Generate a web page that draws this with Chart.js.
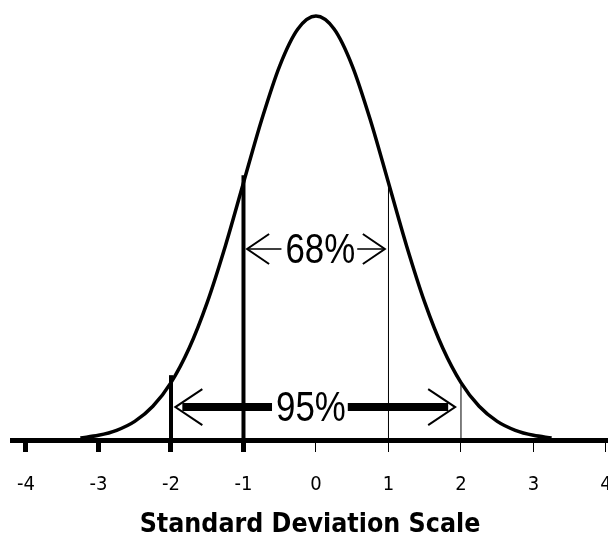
<!DOCTYPE html>
<html>
<head>
<meta charset="utf-8">
<script src="https://cdn.jsdelivr.net/npm/chart.js@4/dist/chart.umd.min.js"></script>
<style>
  html, body { margin: 0; padding: 0; background: #fff; overflow: hidden; }
  #wrap { width: 608px; height: 541px; }
</style>
</head>
<body>
<div id="wrap"><canvas id="sd"></canvas></div>
<script>
// curve (standard deviation units vs. height)
const curveX = [-3.25, -3, -2.75, -2.5, -2.25, -2, -1.75, -1.5, -1.25, -1, -0.75, -0.5, -0.25, 0,
                0.25, 0.5, 0.75, 1, 1.25, 1.5, 1.75, 2, 2.25, 2.5, 2.75, 3, 3.25];
const curveY = [0.002, 0.0044, 0.0091, 0.0175, 0.0317, 0.054, 0.0863, 0.1295, 0.1826, 0.242, 0.3011, 0.3521, 0.3867, 0.3989,
                0.3867, 0.3521, 0.3011, 0.242, 0.1826, 0.1295, 0.0863, 0.054, 0.0317, 0.0175, 0.0091, 0.0044, 0.002];

// vertical markers: position and how high they reach
const markerX = [-2, -1, 1, 2];
const markerTop = [0.061, 0.249, 0.24, 0.052];
const markerBold = [true, true, false, false];

const tickValues = [-4, -3, -2, -1, 0, 1, 2, 3, 4];
const percentLabels = ['68%', '95%'];
const percentFrom = [-0.95, -1.94];
const percentTo = [0.95, 1.92];
const percentLevel = [0.1797, 0.031];
const percentCenter = [0.06, -0.07];

const condensed = "'DejaVu Sans Condensed', 'DejaVu Sans', sans-serif";

const datasets = [{
  data: curveX.map((x, i) => ({ x: x, y: curveY[i] })),
  borderColor: '#000',
  borderWidth: 3.5,
  pointRadius: 0,
  cubicInterpolationMode: 'monotone',
  fill: false
}];
markerX.forEach((x, i) => {
  datasets.push({
    data: [{ x: x, y: 0 }, { x: x, y: markerTop[i] }],
    borderColor: '#000',
    borderWidth: markerBold[i] ? 4 : 1,
    pointRadius: 0
  });
});

// arrows with the percentages
const arrowPlugin = {
  id: 'arrows',
  afterDatasetsDraw(chart) {
    const { ctx, scales: { x, y } } = chart;
    const squeeze = 0.83;
    ctx.save();
    ctx.font = "42px 'Liberation Sans', Arial, sans-serif";
    ctx.textAlign = 'center';
    ctx.textBaseline = 'middle';
    percentLabels.forEach((txt, i) => {
      const x1 = x.getPixelForValue(percentFrom[i]);
      const x2 = x.getPixelForValue(percentTo[i]);
      const yy = y.getPixelForValue(percentLevel[i]);
      const cx = x.getPixelForValue(percentCenter[i]);
      const bold = i === 1;
      const tw = ctx.measureText(txt).width * squeeze;
      ctx.strokeStyle = '#000';
      ctx.lineCap = 'butt';
      // shaft, broken around the text
      ctx.lineWidth = bold ? 8 : 1.5;
      ctx.beginPath();
      ctx.moveTo(x1 + (bold ? 7 : 0), yy);
      ctx.lineTo(cx - tw / 2 - 4, yy);
      ctx.moveTo(cx + tw / 2 + 2, yy);
      ctx.lineTo(x2 - (bold ? 7 : 0), yy);
      ctx.stroke();
      // open heads
      const hx = bold ? 27 : 22, hy = bold ? 18 : 15;
      ctx.lineWidth = 2;
      ctx.beginPath();
      ctx.moveTo(x1 + hx, yy - hy); ctx.lineTo(x1, yy); ctx.lineTo(x1 + hx, yy + hy);
      ctx.moveTo(x2 - hx, yy - hy); ctx.lineTo(x2, yy); ctx.lineTo(x2 - hx, yy + hy);
      ctx.stroke();
      ctx.fillStyle = '#000';
      ctx.save();
      ctx.translate(cx, yy + 2);
      ctx.scale(squeeze, 1);
      ctx.fillText(txt, 0, 0);
      ctx.restore();
    });
    ctx.restore();
  }
};

new Chart(document.getElementById('sd'), {
  type: 'line',
  data: { datasets: datasets },
  options: {
    responsive: true,
    maintainAspectRatio: false,
    animation: false,
    layout: { padding: { top: 0, left: 12, right: 0, bottom: 0 } },
    plugins: { legend: { display: false }, tooltip: { enabled: false } },
    scales: {
      x: {
        type: 'linear',
        min: -4.193,
        max: 4.028,
        afterBuildTicks: axis => { axis.ticks = tickValues.map(v => ({ value: v })); },
        // let the last label run off the edge like in the original
        afterFit: axis => { axis.paddingLeft = 0; axis.paddingRight = 0; },
        border: { display: true, color: '#000', width: 5 },
        grid: {
          drawOnChartArea: false,
          drawTicks: true,
          tickLength: 12,
          color: '#000',
          lineWidth: c => (c.tick && c.tick.value < 0 ? 5 : 1)
        },
        ticks: {
          color: '#000',
          padding: 21,
          maxRotation: 0,
          font: { family: condensed, size: 20 }
        },
        title: {
          display: true,
          text: 'Standard Deviation Scale',
          color: '#000',
          padding: { top: -8.8, bottom: 0 },
          font: { family: condensed, size: 26.5, weight: 'bold' }
        }
      },
      y: {
        type: 'linear',
        display: false,
        min: 0,
        max: 0.414
      }
    }
  },
  plugins: [arrowPlugin]
});
</script>
</body>
</html>
